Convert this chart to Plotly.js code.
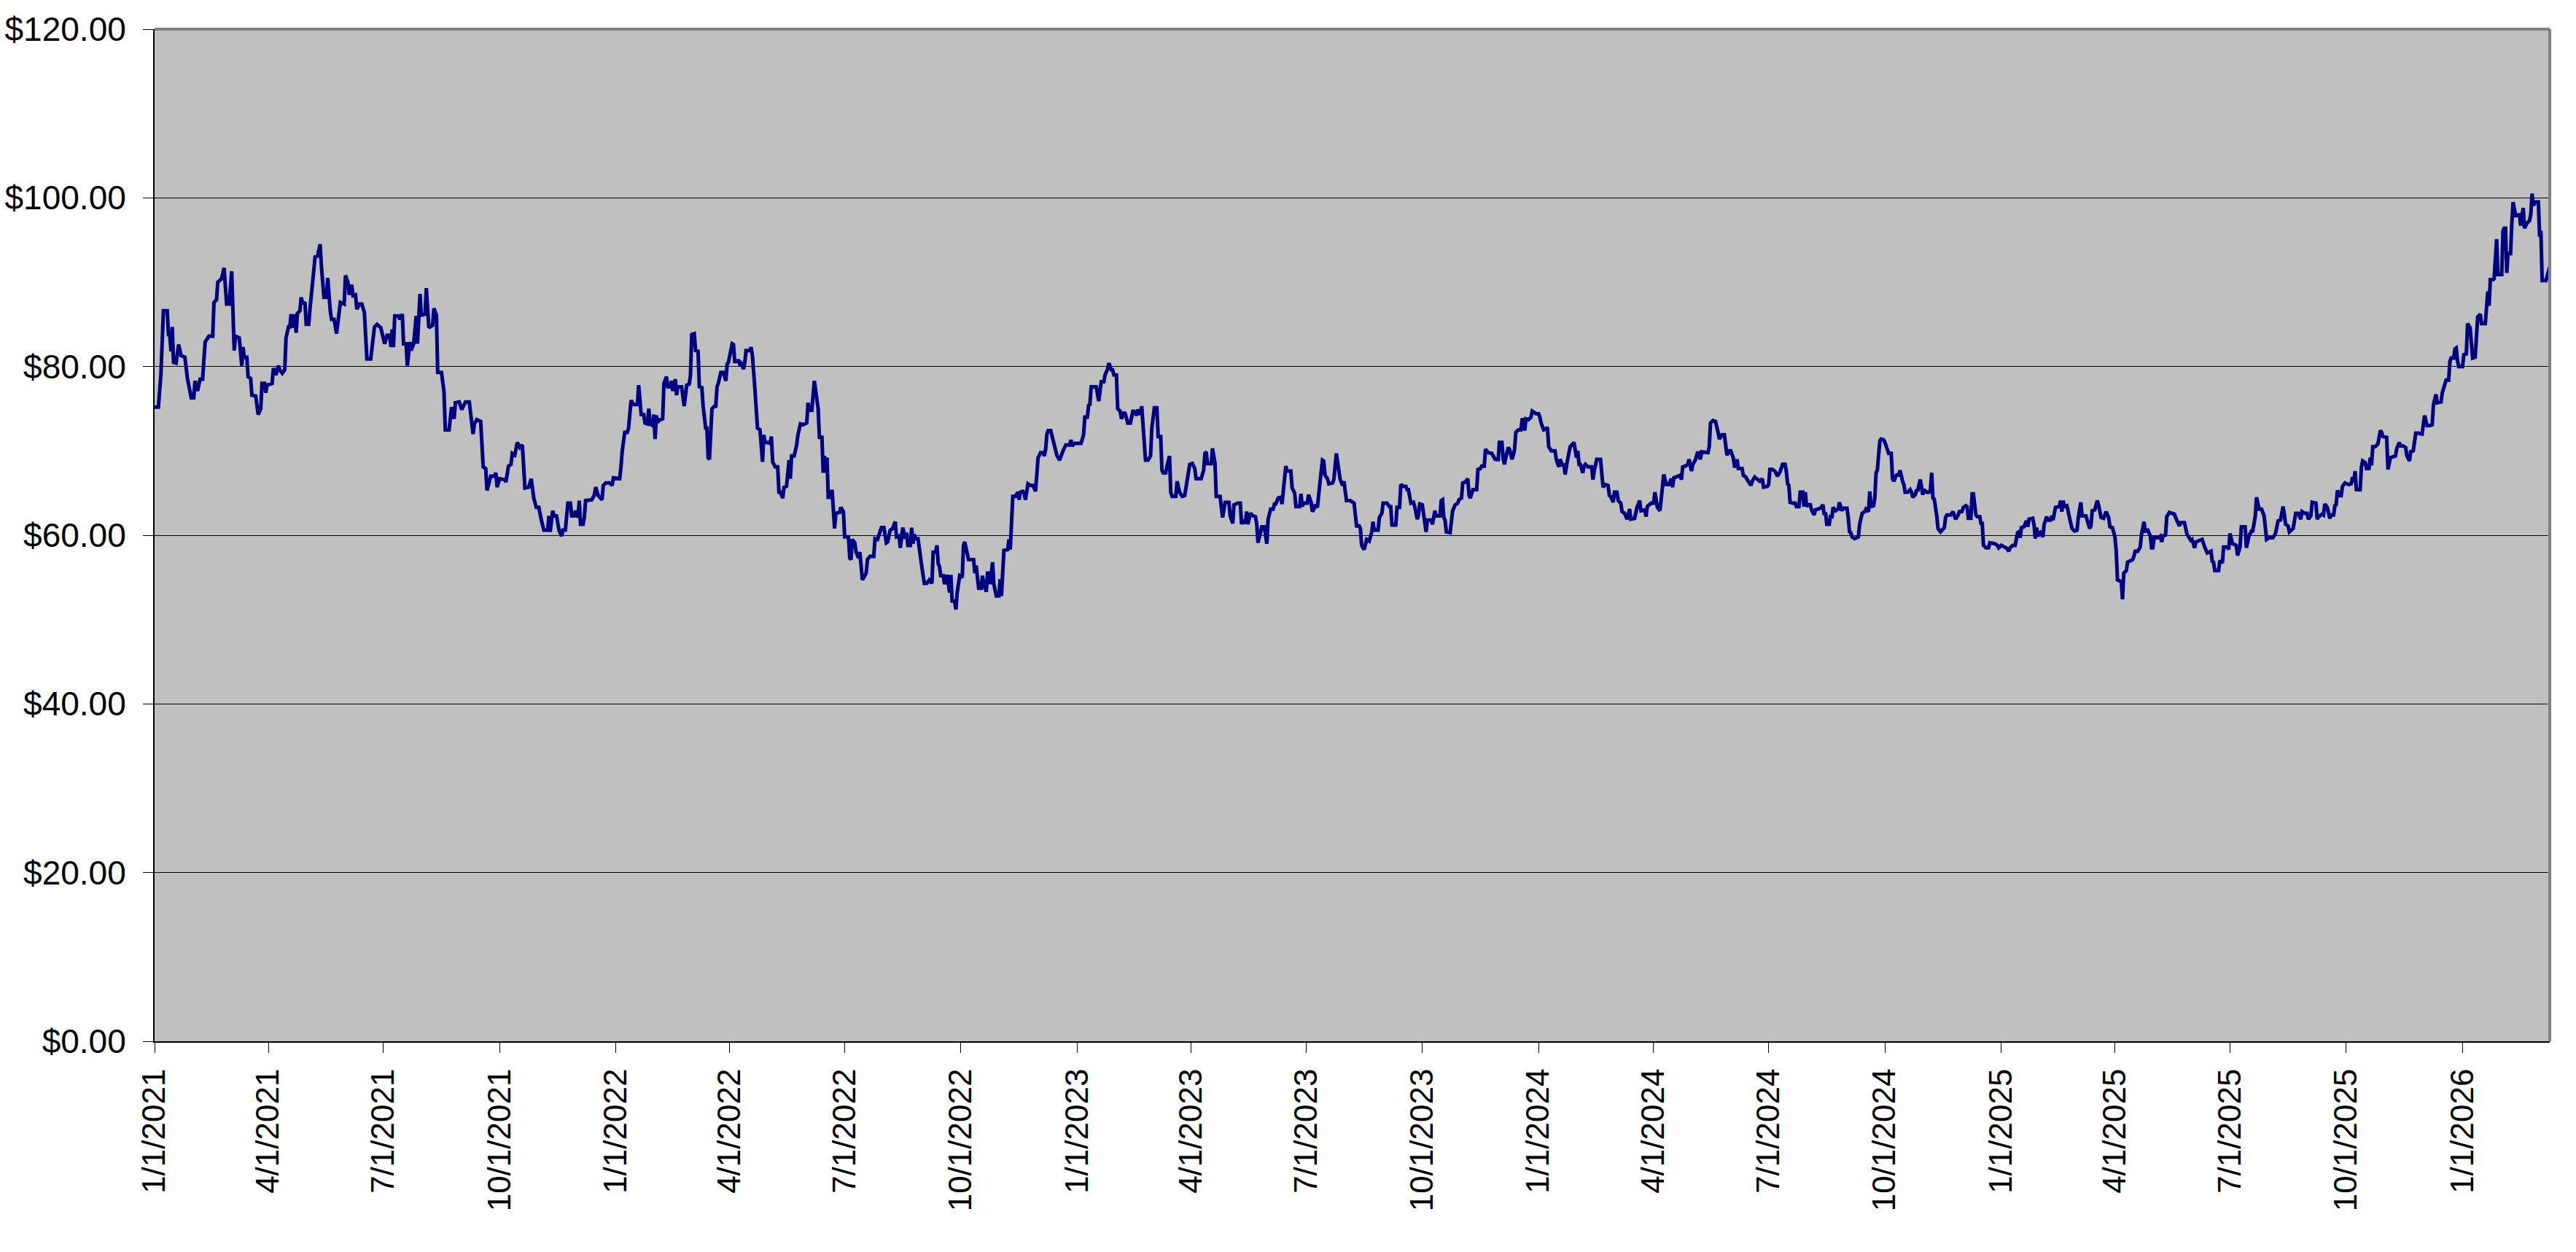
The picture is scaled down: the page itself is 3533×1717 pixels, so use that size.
<!DOCTYPE html>
<html>
<head>
<meta charset="utf-8">
<script src="https://cdn.plot.ly/plotly-3.0.1.min.js"></script>
<style>html,body{margin:0;padding:0;background:#fff;}#chart{width:3533px;height:1717px;}</style>
</head>
<body>
<div id="chart"></div>
<script>
// Series start date; every point is given as a day offset from it.
const startDate = '2021-01-01';

const dayOffset = [
0,3,5,7,10,11,12,13,14,15,17,19,21,24,26,29,31,32,34,36,38,40,43,46,47,49,50,53,55,57,59,61,63,64,67,69,70,71,73,74,76,77,80,82,84,85,87,88,89,93,94,96,98,99,101,103,104,106,107,108,110,111,112,113,115,116,117,119,120,122,123,125,127,129,131,132,134,136,137,139,140,142,144,147,150,151,153,154,156,157,159,160,162,164,166,168,171,174,176,179,182,184,186,187,188,189,190,193,194,196,197,199,200,202,203,205,207,208,210,211,214,215,217,220,221,223,224,227,229,230,233,235,237,238,241,243,246,249,252,253,255,258,259,260,262,263,266,269,270,271,273,277,278,280,282,283,285,287,289,291,293,296,298,300,302,304,306,308,311,312,313,315,
316,318,320,322,323,325,327,329,330,332,333,335,336,337,339,340,341,344,346,348,349,351,354,355,357,360,362,363,366,368,369,370,372,374,375,377,379,382,383,385,387,388,390,391,392,394,395,396,397,398,400,402,403,405,406,408,409,410,412,413,414,417,419,421,423,424,425,427,428,430,431,433,434,436,437,438,439,440,441,443,444,445,446,448,450,452,453,454,456,457,458,459,461,462,463,464,466,467,468,471,472,473,475,477,479,481,482,483,485,487,488,489,491,493,494,495,497,498,500,502,503,504,506,508,509,511,513,516,517,518,520,522,525,526,528,529,530,531,532,533,535,536,538,539,542,543,545,546,549,550,551,552,554,555,557,558,560,562,563,564,566,569,570,572,574,575,577,579,580,582,584,586,587,589,590,592,594,595,596,598,599,600,601,602,604,606,607,609,611,613,615,616,618,619,620,621,622,624,625,627,
629,630,631,633,634,635,637,639,640,641,644,648,649,650,652,654,655,656,658,659,660,661,663,664,666,668,669,670,671,672,675,676,677,679,681,683,684,685,687,688,689,691,693,695,697,698,699,701,703,704,705,706,707,709,711,712,714,715,716,719,721,724,725,726,728,733,735,736,738,739,740,741,745,747,748,749,751,752,754,755,757,758,759,761,762,764,765,767,768,770,772,774,775,777,778,780,781,782,784,786,788,789,791,793,794,796,797,798,800,801,803,804,805,808,809,811,813,815,817,819,821,823,824,828,830,831,832,833,836,837,839,840,843,845,847,850,851,853,854,857,859,860,861,863,864,865,867,869,871,872,873,874,876,878,880,881,883,885,886,887,889,891,892,894,895,896,899,900,902,903,906,907,908,909,912,913,915,916,917,918,920,922,924,925,926,928,929,932,933,935,937,938,940,941,943,946,948,
949,951,953,954,955,957,959,961,963,964,965,968,969,971,972,975,977,978,979,982,983,985,986,988,990,991,992,994,996,997,999,1000,1001,1003,1005,1006,1007,1010,1011,1012,1013,1014,1017,1018,1019,1020,1021,1022,1025,1027,1029,1031,1032,1034,1035,1037,1039,1040,1041,1043,1046,1047,1049,1050,1052,1053,1055,1058,1060,1061,1062,1063,1064,1066,1067,1068,1069,1071,1072,1074,1075,1076,1077,1079,1081,1082,1083,1084,1085,1087,1089,1090,1093,1095,1096,1097,1099,1101,1102,1103,1105,1108,1109,1111,1112,1114,1115,1116,1118,1119,1120,1122,1123,1125,1126,1127,1128,1130,1131,1132,1134,1137,1138,1139,1141,1144,1145,1146,1148,1150,1151,1152,1154,1155,1157,1158,1160,1161,1163,1165,1167,1168,1171,1173,1175,1176,1179,1180,1181,1184,1186,1187,1189,1191,1193,1194,1196,1198,1200,1201,1202,1205,1207,1208,1209,1211,1213,1214,1216,1217,1219,1221,1222,1223,1224,1229,1230,1231,1233,1235,1237,1238,1240,1242,1243,1244,1246,1247,1249,1250,1251,1252,1253,1256,1257,1259,1260,
1262,1263,1264,1266,1270,1272,1273,1276,1277,1278,1280,1282,1284,1286,1288,1290,1291,1292,1293,1294,1296,1298,1299,1301,1302,1304,1305,1306,1307,1308,1310,1311,1313,1314,1316,1318,1320,1321,1322,1323,1325,1326,1327,1328,1330,1332,1333,1335,1336,1339,1340,1341,1342,1343,1345,1348,1349,1350,1351,1353,1354,1356,1357,1358,1360,1361,1362,1363,1365,1366,1368,1369,1371,1372,1374,1375,1376,1378,1380,1381,1383,1384,1385,1387,1389,1390,1391,1393,1394,1395,1396,1397,1399,1400,1402,1404,1405,1406,1407,1408,1410,1411,1413,1416,1417,1418,1421,1423,1424,1425,1427,1428,1430,1431,1433,1434,1435,1437,1438,1439,1441,1442,1444,1445,1446,1447,1449,1451,1452,1455,1456,1458,1459,1461,1463,1465,1467,1468,1470,1472,1474,1475,1476,1477,1479,1481,1482,1483,1486,1487,1488,1489,1490,1492,1494,1495,1497,1498,1500,1501,1502,1504,1507,1508,1509,1510,1511,1513,1515,1517,1519,1521,1522,1524,1525,1528,1529,1531,1532,1533,1535,1537,1538,1540,1542,1544,1546,1547,1549,1550,1551,1552,1553,1556,1557,1558,1560,1561,1563,1565,1566,1567,1569,1571,1572,1574,1575,1577,1579,1580,
1581,1582,1585,1587,1588,1589,1591,1592,1594,1596,1598,1599,1602,1603,1606,1608,1609,1611,1612,1614,1615,1618,1620,1622,1624,1627,1628,1629,1630,1633,1634,1636,1637,1640,1641,1642,1644,1647,1648,1650,1651,1654,1655,1657,1659,1660,1662,1663,1664,1665,1667,1669,1671,1673,1676,1678,1679,1680,1682,1683,1684,1685,1686,1688,1689,1692,1693,1694,1696,1698,1699,1701,1703,1704,1706,1707,1710,1711,1712,1715,1716,1717,1719,1721,1722,1724,1725,1726,1727,1729,1730,1731,1733,1736,1738,1739,1740,1741,1742,1745,1746,1747,1749,1750,1752,1753,1754,1755,1757,1759,1761,1762,1763,1766,1767,1769,1771,1773,1774,1776,1777,1779,1781,1782,1784,1785,1787,1788,1789,1791,1794,1796,1798,1800,1802,1803,1805,1806,1809,1810,1812,1813,1815,1816,1817,1819,1820,1821,1822,1823,1826,1827,1829,1830,1832,1833,1834,1836,1837,1838,1840,1841,1844,1845,1846,1847,1848,1850,1851,1852,1853,1854,1857,1858,1859,1860,1861,1862,1864,1865,1866,1868,1870,1871,1872,1874,1875,1877,1879,1880,1881,1882,1884,1886,1887,1888,1889,1892,1895
];

const price = [
75.2,75.2,79.0,86.6,86.6,83.8,83.8,81.8,84.7,80.5,80.4,82.6,81.3,81.1,78.6,76.3,76.3,78.3,77.1,78.5,78.5,82.9,83.6,83.6,87.6,87.9,90.0,90.4,91.7,87.4,87.4,91.3,81.9,83.6,83.4,80.1,82.3,81.1,81.1,78.8,78.6,76.6,76.5,74.3,75.0,78.0,78.0,76.9,77.8,78.0,79.8,79.0,80.1,79.6,79.2,79.6,83.4,84.7,84.7,86.2,84.6,86.2,84.0,86.3,86.6,88.2,87.6,87.5,85.0,85.0,86.9,90.4,93.0,93.1,94.5,91.9,88.2,88.2,90.5,86.6,85.6,85.6,83.9,87.6,87.4,90.8,90.0,88.5,89.7,88.4,88.5,86.8,87.4,87.4,86.4,80.9,80.9,84.7,85.0,84.6,82.7,83.7,83.7,82.3,84.4,82.3,86.0,86.0,85.6,86.2,82.7,82.7,80.1,82.9,81.9,82.7,86.0,82.7,88.6,86.1,86.2,89.3,84.6,84.9,86.9,86.1,79.3,79.3,77.0,72.5,72.5,75.2,73.8,75.7,75.8,74.9,75.8,75.8,72.0,73.2,73.7,73.5,70.0,68.1,67.9,65.3,67.0,67.0,67.4,65.7,66.7,66.6,66.3,68.2,68.4,69.7,69.5,71.0,70.4,70.7,65.6,65.7,66.7,64.4,63.3,63.3,61.8,60.6,60.6,62.3,60.4,62.9,
62.3,62.3,60.6,59.9,60.6,60.6,63.8,63.8,62.3,62.3,62.9,62.1,64.1,61.3,61.3,62.1,64.1,64.1,64.2,64.8,65.7,64.7,64.2,65.9,66.2,66.2,65.9,66.8,66.8,66.7,68.1,70.0,72.2,72.2,72.7,76.0,75.5,75.5,77.8,74.3,74.3,73.3,73.2,75.0,73.2,73.0,74.3,71.4,74.2,73.4,73.7,73.8,78.0,78.8,77.6,77.6,78.3,77.1,78.5,76.6,77.6,77.6,75.3,77.8,77.9,79.0,83.8,83.9,81.9,81.8,77.6,77.5,75.3,72.7,72.7,69.2,69.0,73.0,75.0,75.3,75.3,77.6,78.0,79.3,79.3,78.3,80.3,80.5,82.3,82.7,82.6,80.6,80.6,80.8,80.3,80.4,79.7,80.5,81.9,81.9,82.3,81.3,77.3,72.7,72.5,68.7,71.9,71.0,71.0,70.9,71.7,68.7,68.1,68.1,65.1,65.1,64.4,65.7,65.8,68.9,66.7,69.4,69.4,70.7,71.9,73.2,73.1,73.3,75.7,74.8,74.8,78.3,75.0,71.6,71.6,67.4,69.4,67.4,69.2,64.5,64.5,65.4,60.8,62.6,62.7,63.3,62.8,59.8,59.8,57.3,57.1,59.5,59.1,58.0,57.3,58.0,54.7,55.3,55.5,57.1,57.5,57.5,59.6,59.5,60.3,60.9,60.9,59.1,59.2,60.6,60.8,61.6,59.8,59.9,58.5,60.9,59.6,60.3,58.8,58.8,60.9,59.0,60.1,59.6,59.6,56.8,56.3,54.3,54.3,54.7,54.3,58.0,58.0,58.8,56.6,56.3,55.2,55.2,54.2,55.3,
53.2,55.3,52.2,52.2,51.2,53.2,55.2,55.0,58.8,59.2,57.1,57.1,55.5,56.4,53.7,53.7,55.2,54.2,53.3,55.5,55.5,54.2,56.8,54.2,52.8,52.8,54.8,52.8,54.8,58.2,58.3,59.5,58.3,64.6,64.6,65.1,64.2,65.1,65.2,65.0,64.2,66.1,65.9,65.9,65.2,67.9,69.2,69.8,69.8,69.4,70.2,72.0,72.4,72.4,71.2,70.5,69.4,69.2,68.9,70.1,70.7,70.7,71.3,70.6,70.9,70.9,71.9,74.0,74.0,75.4,75.5,77.6,77.6,75.9,76.8,78.2,78.2,79.0,79.7,80.4,79.6,79.6,79.0,79.0,75.0,74.7,73.8,74.6,74.4,73.3,73.3,74.7,74.7,74.2,74.9,74.3,75.3,73.0,68.9,68.9,69.4,72.7,75.1,75.1,71.7,71.7,67.7,67.4,67.4,68.2,69.4,65.1,64.6,64.6,66.4,65.1,64.6,64.7,66.7,68.4,68.5,67.9,66.7,66.7,67.7,69.7,69.9,68.5,68.5,70.3,68.5,64.6,64.6,62.1,63.9,63.9,62.3,61.4,63.6,63.8,63.8,61.3,61.8,61.4,62.8,61.3,62.6,62.3,62.2,61.3,59.1,59.8,61.0,61.0,59.0,61.9,63.1,63.1,63.7,63.7,64.4,64.5,63.7,66.7,68.2,67.6,67.6,65.6,65.0,63.4,63.4,64.9,63.4,63.8,63.8,64.8,63.9,62.8,63.0,63.6,63.3,66.2,68.9,68.8,67.1,66.7,66.1,66.2,66.6,69.7,67.0,66.6,65.9,66.4,64.1,64.1,63.9,
63.8,61.1,61.1,60.8,58.8,58.3,59.5,59.3,60.4,61.6,60.6,60.6,62.1,62.6,63.8,63.8,63.4,63.4,61.2,61.2,63.3,63.3,66.0,65.8,65.8,65.4,65.4,63.8,63.9,63.4,61.9,62.4,63.7,63.6,61.4,60.4,61.8,61.8,61.3,62.3,62.9,62.3,62.3,64.1,64.2,62.1,61.8,60.4,60.3,62.9,63.6,63.8,64.2,64.4,66.2,66.3,66.7,64.7,64.4,65.4,65.4,67.8,67.9,68.2,68.2,70.2,69.8,69.7,69.0,68.9,69.2,68.8,71.0,71.0,69.0,68.4,69.2,70.4,70.2,69.0,69.5,70.2,72.2,72.5,72.5,73.7,73.7,72.4,73.8,73.7,74.0,74.7,74.4,74.4,74.0,73.3,72.5,72.6,72.8,70.5,70.0,70.0,69.0,68.1,69.0,68.2,68.5,67.2,69.0,70.0,70.5,70.8,71.0,69.2,70.0,68.4,68.4,67.4,68.2,68.4,68.1,68.1,66.6,67.6,69.0,69.0,66.7,65.7,66.0,65.9,64.7,64.6,63.9,65.1,65.1,64.1,63.8,62.8,62.6,61.9,63.1,61.9,62.0,63.4,64.1,62.9,63.0,62.2,63.4,63.8,63.8,65.1,63.3,62.9,65.7,67.2,66.0,66.0,66.7,65.7,66.8,67.0,67.1,66.6,68.1,68.2,68.4,69.0,67.6,68.4,68.9,69.9,69.5,69.0,69.9,69.8,70.5,73.3,73.6,73.5,72.2,71.4,71.9,71.9,70.7,69.5,70.0,70.0,69.2,68.2,68.2,69.0,67.9,67.9,67.1,66.9,66.6,
66.2,65.9,66.4,66.9,66.4,66.7,65.7,65.8,66.0,67.8,67.8,67.6,67.0,67.5,68.4,68.4,67.6,66.1,65.9,63.9,63.8,63.8,63.4,63.4,65.1,65.1,63.4,65.1,63.4,63.6,63.6,63.0,62.4,63.0,63.1,63.2,63.6,62.4,62.7,61.3,61.3,62.4,62.0,63.3,62.9,63.1,63.9,62.9,63.2,63.2,62.1,60.4,60.3,59.8,59.6,59.8,61.3,62.3,62.6,62.8,63.1,62.8,65.2,63.4,63.5,64.4,67.4,67.7,71.2,71.4,71.3,71.0,69.9,69.7,69.7,66.7,66.4,67.1,67.2,67.7,66.4,66.0,65.1,65.1,65.4,65.1,64.5,64.8,65.4,65.2,66.0,66.6,64.8,65.4,65.1,65.1,65.4,67.4,64.4,64.3,62.3,60.8,60.4,60.9,62.1,62.4,62.4,62.8,62.3,61.9,62.4,62.8,62.8,63.3,63.5,63.4,62.0,62.0,64.9,64.9,62.4,62.2,62.2,61.4,61.4,58.8,58.5,58.5,59.1,59.1,59.0,58.8,58.5,58.8,58.6,58.5,58.1,58.5,58.8,58.8,60.3,60.4,59.7,60.9,61.0,61.7,61.0,61.9,62.0,61.2,59.6,60.9,59.9,60.3,59.8,61.3,62.2,61.8,61.8,62.3,61.8,63.3,63.4,64.1,62.8,64.1,63.4,63.5,62.1,60.8,60.5,60.6,62.1,63.9,62.3,62.3,61.8,60.8,61.1,62.9,63.0,64.1,63.6,62.1,62.0,62.8,62.1,61.0,60.9,60.3,59.8,58.1,54.7,54.5,52.4,55.5,55.8,56.8,56.9,57.1,57.5,58.1,58.1,58.6,60.1,61.6,60.5,60.6,59.9,58.5,
58.5,59.7,59.7,59.9,59.2,59.9,60.0,62.2,62.7,62.6,62.5,62.1,61.1,61.5,61.5,60.1,59.9,59.4,59.5,58.5,59.2,59.4,59.5,58.6,57.9,58.1,56.9,56.8,55.8,55.8,57.0,56.7,58.6,58.6,58.3,60.2,59.0,58.8,57.6,58.6,61.0,61.0,58.5,59.9,60.5,60.5,62.2,64.5,63.8,63.1,63.1,62.3,59.5,59.7,59.7,60.2,60.9,61.7,61.8,62.6,63.4,62.5,61.3,61.1,60.4,60.8,61.7,62.6,62.6,61.9,62.8,62.6,62.6,61.9,62.3,63.9,63.8,61.9,62.2,62.5,62.4,63.7,63.3,62.0,62.4,62.4,63.5,63.6,65.3,64.7,64.7,65.8,66.2,66.0,66.1,66.9,66.3,67.6,65.4,65.4,68.1,68.8,68.6,67.9,67.9,69.2,68.3,70.5,70.5,70.8,72.4,72.2,71.7,71.6,67.8,69.2,69.3,69.4,70.3,71.0,70.6,70.6,70.4,69.4,68.8,69.9,70.0,70.8,72.1,72.1,72.0,74.2,73.0,73.0,73.1,75.5,76.7,75.7,75.8,76.9,78.0,78.4,78.4,80.6,81.0,81.0,82.1,82.2,80.7,80.0,80.0,81.4,81.5,85.1,84.6,83.2,81.0,81.1,83.5,85.9,86.2,85.1,85.1,87.1,88.9,87.2,90.3,90.3,90.4,92.8,95.1,90.9,90.9,96.1,96.4,96.4,91.1,93.4,93.4,97.0,99.5,97.9,97.9,98.0,96.7,98.8,96.4,97.0,97.3,98.0,100.5,99.1,99.5,99.5,95.4,96.1,90.2,90.2,91.8
];

const tickDates = ['2021-01-01','2021-04-01','2021-07-01','2021-10-01','2022-01-01','2022-04-01','2022-07-01','2022-10-01','2023-01-01','2023-04-01','2023-07-01','2023-10-01','2024-01-01','2024-04-01','2024-07-01','2024-10-01','2025-01-01','2025-04-01','2025-07-01','2025-10-01','2026-01-01'];
const tickLabels = ['1/1/2021','4/1/2021','7/1/2021','10/1/2021','1/1/2022','4/1/2022','7/1/2022','10/1/2022','1/1/2023','4/1/2023','7/1/2023','10/1/2023','1/1/2024','4/1/2024','7/1/2024','10/1/2024','1/1/2025','4/1/2025','7/1/2025','10/1/2025','1/1/2026'];
const xRange = ['2021-01-01','2026-03-11'];
const yRange = [0, 120];

const base = Date.parse(startDate + 'T00:00:00Z');
const dates = dayOffset.map(d => new Date(base + d * 86400000).toISOString().slice(0, 10));

const family = 'Liberation Sans, Arial, sans-serif';
const yFont = {family: family, size: 46, color: '#000'};
const xFont = {family: family, size: 44, color: '#000'};

Plotly.newPlot('chart', [{
  type: 'scatter', mode: 'lines', x: dates, y: price,
  line: {color: '#000080', width: 5}, hoverinfo: 'skip', showlegend: false
}], {
  width: 3533, height: 1717,
  margin: {l: 212, r: 36, t: 40, b: 289, pad: 0},
  paper_bgcolor: '#ffffff', plot_bgcolor: '#C0C0C0',
  font: yFont,
  showlegend: false,
  xaxis: {
    type: 'date', range: xRange, tickmode: 'array', tickvals: tickDates, ticktext: tickLabels,
    tickangle: -90, ticks: 'outside', ticklen: 14, tickwidth: 1, tickcolor: '#000',
    showgrid: false, zeroline: false, showline: true, linecolor: '#000', linewidth: 2,
    tickfont: xFont, automargin: false, ticklabelstandoff: 4
  },
  yaxis: {
    range: yRange, tickmode: 'linear', tick0: 0, dtick: 20, tickprefix: '$', tickformat: '.2f',
    ticks: 'outside', ticklen: 14, tickwidth: 1, tickcolor: '#000',
    showgrid: true, gridcolor: '#000', gridwidth: 1, zeroline: false,
    showline: true, linecolor: '#000', linewidth: 2, tickfont: yFont, automargin: false,
    ticklabelstandoff: 14
  },
  shapes: [
    {type: 'line', xref: 'paper', yref: 'paper', x0: 0, x1: 1, y0: 1, y1: 1, line: {color: '#808080', width: 4}, layer: 'above'},
    {type: 'line', xref: 'paper', yref: 'paper', x0: 1, x1: 1, y0: 0, y1: 1, line: {color: '#808080', width: 4}, layer: 'above'}
  ]
}, {staticPlot: true, displayModeBar: false});
</script>
</body>
</html>
